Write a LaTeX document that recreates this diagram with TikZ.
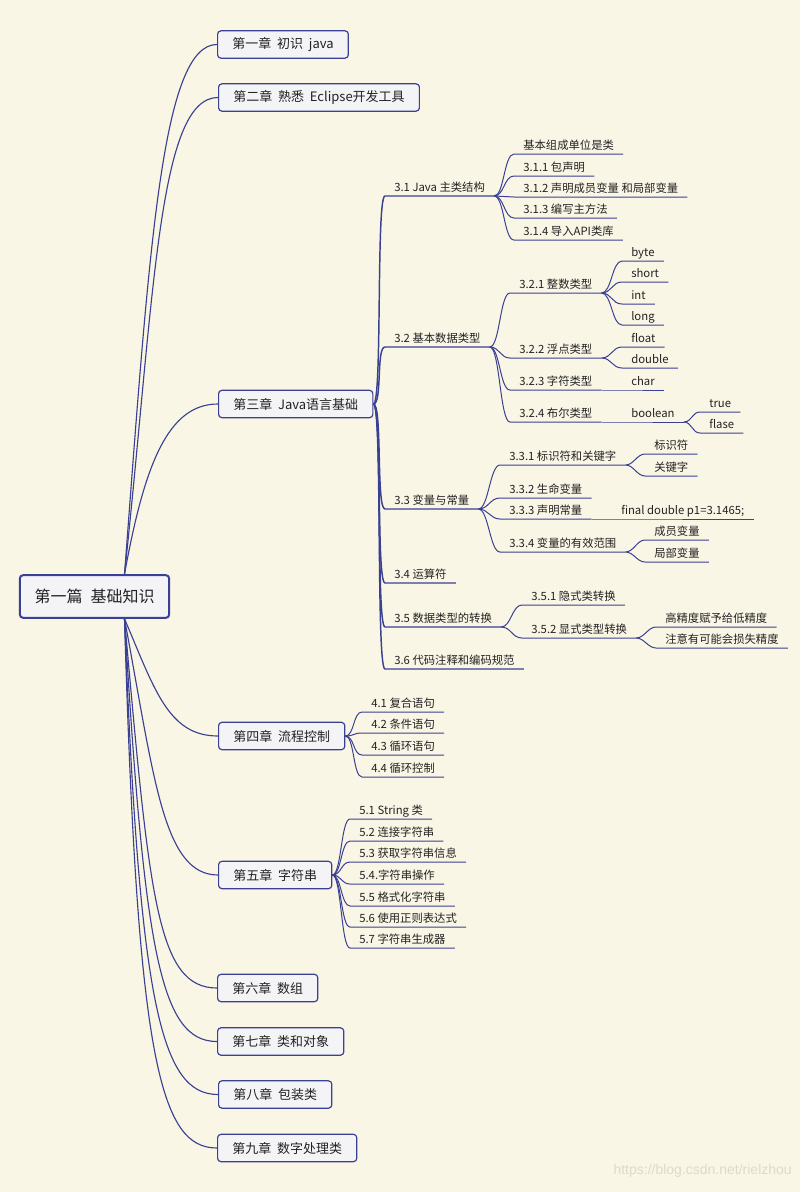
\documentclass[tikz,border=0pt]{standalone}
\usepackage{fontspec}
\setmainfont{Noto Sans CJK SC}
\newfontfamily\wmfont{Liberation Sans}
\usetikzlibrary{calc}
\definecolor{bg}{HTML}{FAF6E6}
\definecolor{navy}{HTML}{3B4192}
\definecolor{boxfill}{HTML}{F4F4F7}
\definecolor{txt}{HTML}{222222}
\definecolor{wmcol}{HTML}{DDD9CD}
\newcommand\cgap{\hspace{0.45em}}
\begin{document}
\begin{tikzpicture}[x=0.75pt,y=-0.75pt,
  chap/.style={draw=navy, fill=boxfill, line width=0.9pt, rounded corners=2.5pt, anchor=west,
    minimum height=20.5pt, inner xsep=11pt, inner ysep=0pt, font=\fontsize{9.75}{11}\selectfont, text=txt},
  rootbox/.style={chap, anchor=center, line width=1.5pt, minimum width=108.75pt, minimum height=32pt,
    font=\fontsize{12}{14}\selectfont},
  lab/.style={anchor=south west, inner xsep=6.75pt, inner ysep=1.8pt, text height=6.6pt, text depth=1.2pt,
    font=\fontsize{8.5}{9.5}\selectfont, text=txt},
  ln/.style={draw=navy, line width=0.75pt},
  rln/.style={draw=navy, line width=0.85pt},
  trunk/.style={draw=navy, line width=1.1pt},
  bc/.style={to path={.. controls +(#1,0) and +(-#1,0) .. (\tikztotarget) \tikztonodes}},
  bc/.default=10]

\fill[bg] (0,0) rectangle (800,1192);
\useasboundingbox (0,0) rectangle (800,1192);

% root and chapters
\node[rootbox] (root) at (94.5,596.5) {第一篇\hspace{0.5em}基础知识};
\node[chap] (ch1) at (217,44.5) {第一章\cgap 初识\cgap java};
\node[chap] (ch2) at (218,97.5) {第二章\cgap 熟悉\cgap Eclipse开发工具};
\node[chap] (ch3) at (218,404) {第三章\cgap Java语言基础};
\node[chap] (ch4) at (218,736) {第四章\cgap 流程控制};
\node[chap] (ch5) at (218,875) {第五章\cgap 字符串};
\node[chap] (ch6) at (217,988) {第六章\cgap 数组};
\node[chap] (ch7) at (217,1041.5) {第七章\cgap 类和对象};
\node[chap] (ch8) at (218,1094.5) {第八章\cgap 包装类};
\node[chap] (ch9) at (217,1148) {第九章\cgap 数字处理类};

\coordinate (rt) at ($(root.north)+(30,0)$);
\coordinate (rb) at ($(root.south)+(30,0)$);

\draw[rln] (rt) .. controls +(25,-330) and +(-55,0) .. (ch1.west);
\draw[rln] (rt) .. controls +(30,-280) and +(-60,0) .. (ch2.west);
\draw[rln] (rt) .. controls +(20,-110) and +(-50,0) .. (ch3.west);
\draw[rln] (rb) .. controls +(30,70) and +(-50,0) .. (ch4.west);
\draw[rln] (rb) .. controls +(30,160) and +(-55,0) .. (ch5.west);
\draw[rln] (rb) .. controls +(25,280) and +(-60,0) .. (ch6.west);
\draw[rln] (rb) .. controls +(20,332) and +(-57,0) .. (ch7.west);
\draw[rln] (rb) .. controls +(15,382) and +(-58,0) .. (ch8.west);
\draw[rln] (rb) .. controls +(13,442) and +(-57,0) .. (ch9.west);

% chapter 3 branches
\node[lab] (s31) at (385,196) {3.1 Java 主类结构};
\node[lab] (s32) at (385,347) {3.2 基本数据类型};
\node[lab] (s33) at (385,509) {3.3 变量与常量};
\node[lab] (s34) at (385,583) {3.4 运算符};
\node[lab] (s35) at (385,627) {3.5 数据类型的转换};
\node[lab] (s36) at (385,669) {3.6 代码注释和编码规范};
\foreach \s in {s31,s32,s33,s34,s35,s36}
  \draw[trunk] (ch3.east) to[bc=9] (\s.south west) -- (\s.south east);

% 3.1
\node[lab] (c310) at (514,154) {基本组成单位是类};
\node[lab] (c311) at (514,176) {3.1.1 包声明};
\node[lab] (c312) at (514,197) {3.1.2 声明成员变量 和局部变量};
\node[lab] (c313) at (514,218) {3.1.3 编写主方法};
\node[lab] (c314) at (514,240) {3.1.4 导入API类库};
\foreach \c in {c310,c311,c312,c313,c314}
  \draw[ln] (s31.south east) to[bc] (\c.south west) -- (\c.south east);

% 3.2
\node[lab] (s321) at (510,293) {3.2.1 整数类型};
\node[lab] (s322) at (510,358) {3.2.2 浮点类型};
\node[lab] (s323) at (510,390) {3.2.3 字符类型};
\node[lab] (s324) at (510,422) {3.2.4 布尔类型};
\foreach \c in {s321,s322,s323,s324}
  \draw[ln] (s32.south east) to[bc] (\c.south west) -- (\c.south east);
\node[lab] (tbyte) at (622,261) {byte};
\node[lab] (tshort) at (622,282) {short};
\node[lab] (tint) at (622,304) {int};
\node[lab] (tlong) at (622,325) {long};
\foreach \c in {tbyte,tshort,tint,tlong}
  \draw[ln] (s321.south east) to[bc] (\c.south west) -- (\c.south east);
\node[lab] (tfloat) at (622,347) {float};
\node[lab] (tdouble) at (622,368) {double};
\foreach \c in {tfloat,tdouble}
  \draw[ln] (s322.south east) to[bc] (\c.south west) -- (\c.south east);
\node[lab] (tchar) at (622,390) {char};
\draw[ln] (s323.south east) -- (tchar.south west) -- (tchar.south east);
\node[lab] (tbool) at (622,422) {boolean};
\draw[ln] (s324.south east) -- (tbool.south west) -- (tbool.south east);
\node[lab] (ttrue) at (700,412) {true};
\node[lab] (tflase) at (700,433) {flase};
\foreach \c in {ttrue,tflase}
  \draw[ln] (tbool.south east) to[bc=8] (\c.south west) -- (\c.south east);

% 3.3
\node[lab] (s331) at (500,465) {3.3.1 标识符和关键字};
\node[lab] (s332) at (500,498) {3.3.2 生命变量};
\node[lab] (s333) at (500,519) {3.3.3 声明常量};
\node[lab] (s334) at (500,552) {3.3.4 变量的有效范围};
\foreach \c in {s331,s332,s333,s334}
  \draw[ln] (s33.south east) to[bc] (\c.south west) -- (\c.south east);
\node[lab] (k1) at (645,454) {标识符};
\node[lab] (k2) at (645,476) {关键字};
\foreach \c in {k1,k2}
  \draw[ln] (s331.south east) to[bc=8] (\c.south west) -- (\c.south east);
\node[lab] (kfinal) at (612,519) {final double p1=3.1465;};
\draw[ln] (s333.south east) -- (kfinal.south west) -- (kfinal.south east);
\node[lab] (k3) at (645,540) {成员变量};
\node[lab] (k4) at (645,562) {局部变量};
\foreach \c in {k3,k4}
  \draw[ln] (s334.south east) to[bc=8] (\c.south west) -- (\c.south east);

% 3.5
\node[lab] (s351) at (522,605) {3.5.1 隐式类转换};
\node[lab] (s352) at (522,638) {3.5.2 显式类型转换};
\foreach \c in {s351,s352}
  \draw[ln] (s35.south east) to[bc] (\c.south west) -- (\c.south east);
\node[lab] (p1) at (656,627) {高精度赋予给低精度};
\node[lab] (p2) at (656,648) {注意有可能会损失精度};
\foreach \c in {p1,p2}
  \draw[ln] (s352.south east) to[bc=8] (\c.south west) -- (\c.south east);

% chapter 4
\node[lab] (c41) at (362,712) {4.1 复合语句};
\node[lab] (c42) at (362,733) {4.2 条件语句};
\node[lab] (c43) at (362,755) {4.3 循环语句};
\node[lab] (c44) at (362,777) {4.4 循环控制};
\foreach \c in {c41,c42,c43,c44}
  \draw[ln] (ch4.east) to[bc=9] (\c.south west) -- (\c.south east);

% chapter 5
\node[lab] (c51) at (350,819) {5.1 String 类};
\node[lab] (c52) at (350,841) {5.2 连接字符串};
\node[lab] (c53) at (350,862) {5.3 获取字符串信息};
\node[lab] (c54) at (350,884) {5.4.字符串操作};
\node[lab] (c55) at (350,906) {5.5 格式化字符串};
\node[lab] (c56) at (350,927) {5.6 使用正则表达式};
\node[lab] (c57) at (350,948) {5.7 字符串生成器};
\foreach \c in {c51,c52,c53,c54,c55,c56,c57}
  \draw[ln] (ch5.east) to[bc=9] (\c.south west) -- (\c.south east);

% watermark
\node[anchor=east, inner sep=0pt, text=wmcol, font=\wmfont\fontsize{10.5}{12}\selectfont] (wm) at (792,1171) {https://blog.csdn.net/rielzhou};
\end{tikzpicture}
\end{document}
